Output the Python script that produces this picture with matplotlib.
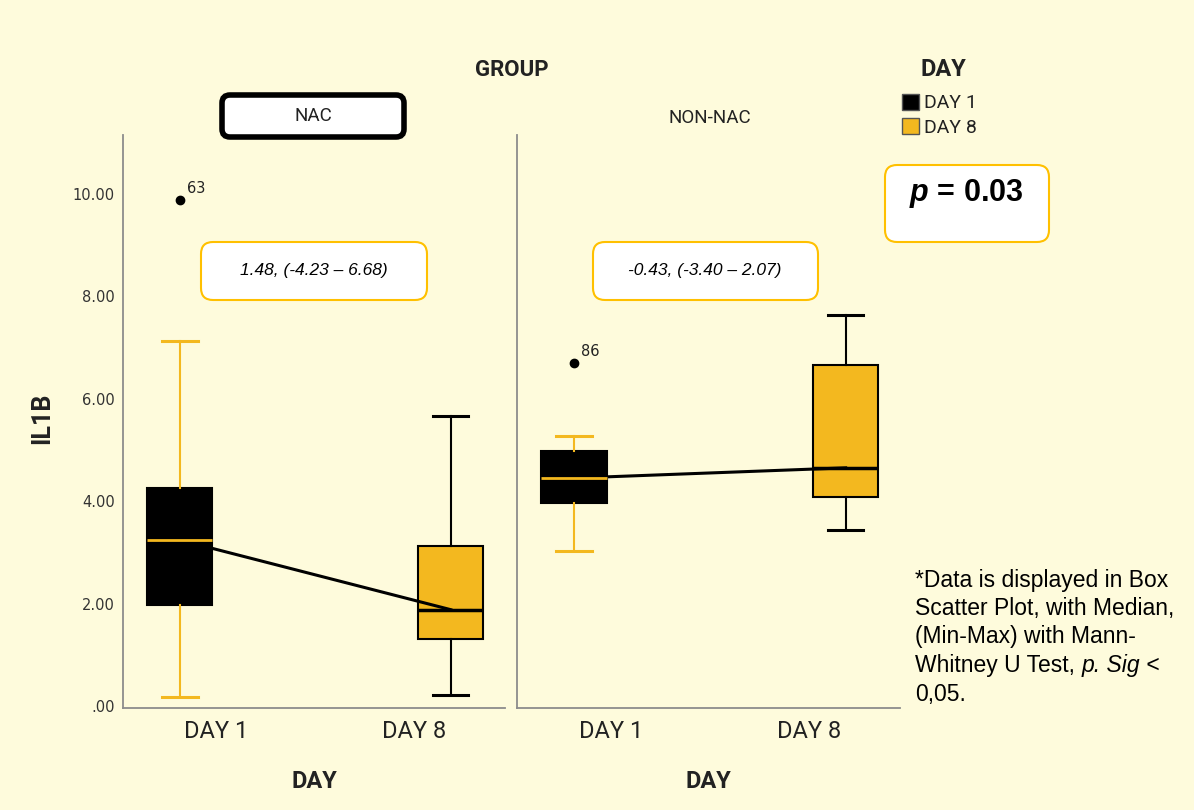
import matplotlib.pyplot as plt
from matplotlib.patches import FancyBboxPatch, Patch

# ---------------------------------------------
# Data (IL1B, box summaries)
# ---------------------------------------------
groups = ["NAC", "NON-NAC"]
days = ["DAY 1", "DAY 8"]
whis_lo = [[0.17, 0.22], [3.03, 3.44]]
q1 = [[1.97, 1.31], [3.96, 4.08]]
med = [[3.24, 1.88], [4.45, 4.65]]
q3 = [[4.26, 3.13], [4.98, 6.66]]
whis_hi = [[7.13, 5.66], [5.27, 7.64]]
outliers = [[[9.88], []], [[6.70], []]]
outlier_ids = [[["63"], []], [["86"], []]]
ci_text = ["1.48, (-4.23 \u2013 6.68)", "-0.43, (-3.40 \u2013 2.07)"]
yticks = [0, 2, 4, 6, 8, 10]
ytick_labels = [".00", "2.00", "4.00", "6.00", "8.00", "10.00"]
p_text = r"$\mathbfit{p}$ = 0.03"
# each footnote line is a list of (text, italic) pieces
note_lines = [[("*Data is displayed in Box", False)],
              [("Scatter Plot, with Median,", False)],
              [("(Min-Max) with Mann-", False)],
              [("Whitney U Test, ", False), ("p. Sig", True), (" <", False)],
              [("0,05.", False)]]

# ---------------------------------------------
# Style
# ---------------------------------------------
CREAM = "#FEFBDC"
GOLD = "#F3B81F"
BOX_EDGE = "#FFC000"
TXT = "#222222"
SPSS_FONT = ["Roboto", "DejaVu Sans"]
day_fill = ["black", GOLD]
day_whisk = [GOLD, "black"]
day_median = [GOLD, "black"]

plt.rcParams["mathtext.fontset"] = "custom"
plt.rcParams["mathtext.it"] = "Liberation Sans:italic"
plt.rcParams["mathtext.rm"] = "Liberation Sans"
plt.rcParams["mathtext.bf"] = "Liberation Sans:bold"
plt.rcParams["mathtext.bfit"] = "Liberation Sans:italic:bold"

W, H, DPI = 1194, 810, 100
fig = plt.figure(figsize=(W / DPI, H / DPI), dpi=DPI, facecolor=CREAM)


def fx(x):
    return x / W


def fy(y):
    return 1 - y / H


def px_box(x0, y0, x1, y1, ec, lw, r):
    # rounded box given in pixel coords (top-left origin)
    p = FancyBboxPatch((x0 / DPI, (H - y1) / DPI), (x1 - x0) / DPI, (y1 - y0) / DPI,
                       boxstyle=f"round,pad=0,rounding_size={r / DPI}",
                       transform=fig.dpi_scale_trans, facecolor="white",
                       edgecolor=ec, linewidth=lw, zorder=5)
    fig.add_artist(p)


axes = [fig.add_axes([fx(123), fy(708), fx(382), 573 / H]),
        fig.add_axes([fx(517), fy(708), fx(383), 573 / H])]

for g, ax in enumerate(axes):
    ax.set_facecolor(CREAM)
    for d in range(2):
        stats = dict(med=med[g][d], q1=q1[g][d], q3=q3[g][d],
                     whislo=whis_lo[g][d], whishi=whis_hi[g][d],
                     fliers=outliers[g][d])
        ax.bxp([stats], positions=[d], widths=0.24, capwidths=0.13,
               patch_artist=True,
               boxprops=dict(facecolor=day_fill[d], edgecolor="black", linewidth=1.5, zorder=2),
               whiskerprops=dict(color=day_whisk[d], linewidth=1.5),
               capprops=dict(color=day_whisk[d], linewidth=2.2),
               medianprops=dict(color=day_median[d], linewidth=2.5 if d else 2, zorder=4),
               flierprops=dict(marker="o", markerfacecolor="black",
                               markeredgecolor="black", markersize=6))
        for val, lab in zip(outliers[g][d], outlier_ids[g][d]):
            ax.annotate(lab, (d, val), xytext=(5, 5), textcoords="offset points",
                        fontsize=10.5, color=TXT)
    # line joining the medians (under the median bars, over the box fill)
    ax.plot([0, 1], med[g], color="black", linewidth=2.2, zorder=3)

    ax.set_xlim(-0.21, 1.2)
    ax.set_ylim(-0.04, 11.15)
    ax.set_xticks([0.135, 0.865])
    ax.set_xticklabels(days, fontsize=17, color=TXT, family=SPSS_FONT)
    ax.set_yticks(yticks)
    if g == 0:
        ax.set_yticklabels(ytick_labels, fontsize=10.5, color="#333333", family="DejaVu Sans")
    else:
        ax.tick_params(labelleft=False)
    ax.tick_params(length=0, pad=6)
    ax.tick_params(axis="x", pad=9)
    for s in ["top", "right"]:
        ax.spines[s].set_visible(False)
    for s in ["left", "bottom"]:
        ax.spines[s].set_color("#8c8c8c")
        ax.spines[s].set_linewidth(1.3)
    ax.set_xlabel("DAY", fontsize=17, fontweight="bold", color=TXT, family=SPSS_FONT, va="center")
    ax.xaxis.set_label_coords(0.5, -73 / 573)

# headers
fig.text(fx(512), fy(70), "GROUP", fontsize=16, fontweight="bold", ha="center", va="center",
         color=TXT, family=SPSS_FONT)
fig.text(fx(313), fy(116), groups[0], fontsize=13.5, ha="center", va="center", color=TXT,
         family=SPSS_FONT, zorder=6)
fig.text(fx(710), fy(118), groups[1], fontsize=13.5, ha="center", va="center", color=TXT,
         family=SPSS_FONT)
px_box(222, 95, 404, 137, "black", 4, 8)
fig.text(fx(42), fy(418), "IL1B", fontsize=18, fontweight="bold", rotation=90,
         ha="center", va="center", color=TXT, family=SPSS_FONT)

# legend
fig.text(fx(943), fy(70), "DAY", fontsize=17, fontweight="bold", ha="center", va="center",
         color=TXT, family=SPSS_FONT)
handles = [Patch(facecolor=day_fill[i], edgecolor="#555555", label=days[i]) for i in range(2)]
fig.legend(handles=handles, loc="upper left", bbox_to_anchor=(fx(902), fy(94)),
           frameon=False, prop=dict(family=SPSS_FONT, size=14),
           handlelength=0.85, handleheight=0.85,
           handletextpad=0.3, labelspacing=0.3, borderpad=0, borderaxespad=0,
           labelcolor=TXT)

# median difference boxes
px_box(201, 242, 427, 300, BOX_EDGE, 1.5, 12)
fig.text(fx(314), fy(271), ci_text[0], fontsize=12.5, style="italic", family="Liberation Sans",
         ha="center", va="center", zorder=6)
px_box(593, 242, 818, 300, BOX_EDGE, 1.5, 12)
fig.text(fx(705), fy(271), ci_text[1], fontsize=12.5, style="italic", family="Liberation Sans",
         ha="center", va="center", zorder=6)

# p-value box
px_box(885, 165, 1049, 242, BOX_EDGE, 1.5, 12)
fig.text(fx(966), fy(193), p_text, fontsize=22, fontweight="bold", family="Liberation Sans",
         ha="center", va="center", zorder=6)

# footnote, pieces chained left to right
for i, pieces in enumerate(note_lines):
    prev = None
    for txt, it in pieces:
        kw = dict(fontsize=16.5, family="Liberation Sans", color="black",
                  style="italic" if it else "normal")
        if prev is None:
            prev = fig.text(fx(915), fy(580 + i * 28.5), txt, ha="left", va="center", **kw)
        else:
            prev = axes[1].annotate(txt, xy=(1, 0), xycoords=prev,
                                    ha="left", va="bottom", **kw)

fig.savefig("out.png", dpi=DPI, facecolor=CREAM)
